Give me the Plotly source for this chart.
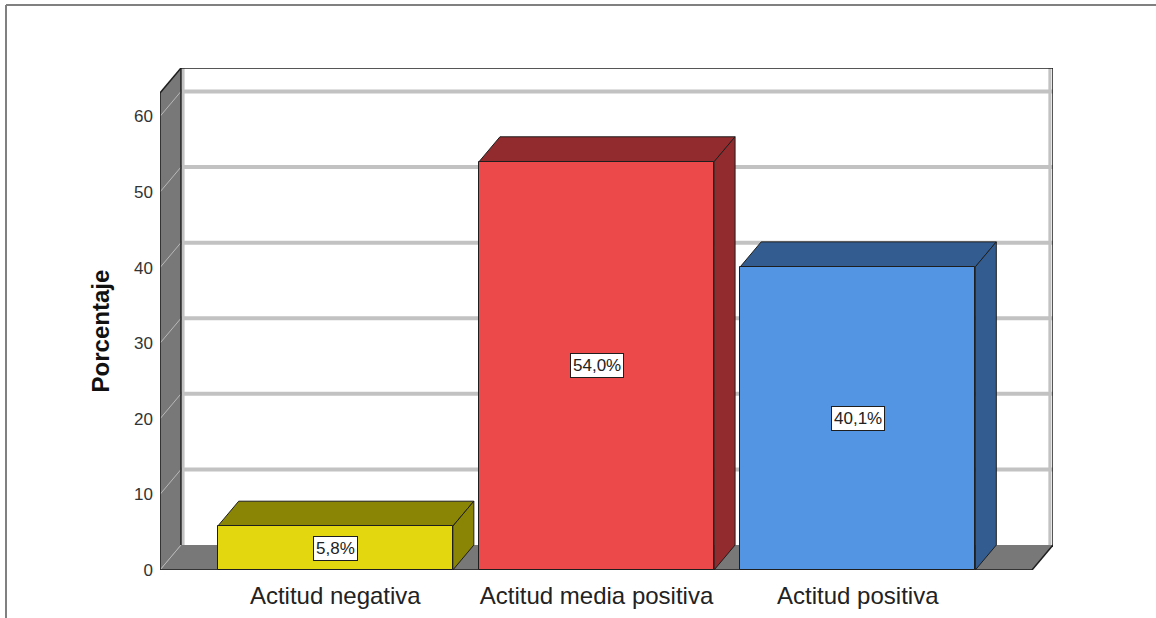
import plotly.graph_objects as go

# ---- data ----
categories = ["Actitud negativa", "Actitud media positiva", "Actitud positiva"]
values = [5.8, 54.0, 40.1]
y_ticks = [0, 10, 20, 30, 40, 50, 60]

# ---- style ----
front_colors = ["#E3D80F", "#EC4A4A", "#5394E3"]
dark_colors = ["#8B8505", "#922B2D", "#335D90"]
WALL = "#787878"
GRID = "#C2C2C2"
EDGE = "#1E1E1E"
FONT = "Liberation Sans, Arial, sans-serif"

BAR_W = 0.9
DX = 0.0803        # depth offset in x units
DY = 3.3           # depth offset in y units
X_L = -0.671       # front plane left
X_R = 2.667        # front plane right
WALL_H = 63.1      # wall height

xs = list(range(len(categories)))

fig = go.Figure()
fig.add_trace(go.Bar(
    x=xs, y=values, width=BAR_W,
    marker=dict(color=front_colors, line=dict(color=EDGE, width=1)),
    hoverinfo="skip", showlegend=False,
))

shapes = []


def poly(pts, fill, line_color=None, width=1):
    path = "M " + " L ".join(f"{x},{y}" for x, y in pts) + " Z"
    return dict(type="path", path=path, xref="x", yref="y", layer="below",
                fillcolor=fill,
                line=dict(color=line_color if line_color else fill, width=width if line_color else 0))


def seg(x0, y0, x1, y1, color, width):
    return dict(type="line", x0=x0, y0=y0, x1=x1, y1=y1, xref="x", yref="y",
                layer="below", line=dict(color=color, width=width))


# back wall (white)
shapes.append(poly([(X_L + DX, DY), (X_L + DX, WALL_H + DY), (X_R + DX, WALL_H + DY), (X_R + DX, DY)], "white"))
# left wall
shapes.append(poly([(X_L, 0), (X_L, WALL_H), (X_L + DX, WALL_H + DY), (X_L + DX, DY)], WALL))
# floor
shapes.append(poly([(X_L, 0), (X_L + DX, DY), (X_R + DX, DY), (X_R, 0)], WALL))

# gridlines
for t in y_ticks:
    if t > 0:
        shapes.append(seg(X_L + DX, t + DY, X_R + DX, t + DY, GRID, 4))
    shapes.append(seg(X_L, t, X_L + DX, t + DY, "#B8B8B8", 1))
# light inner border of back wall
shapes.append(seg(X_R + DX - 0.012, DY, X_R + DX - 0.012, WALL_H + DY, GRID, 3))
shapes.append(seg(X_L + DX + 0.008, DY, X_L + DX + 0.008, WALL_H + DY, GRID, 3))

# edges
shapes.append(seg(X_L, 0, X_L, WALL_H, EDGE, 1.5))
shapes.append(seg(X_L, WALL_H, X_L + DX, WALL_H + DY, EDGE, 1.5))
shapes.append(seg(X_L + DX, DY, X_L + DX, WALL_H + DY, EDGE, 1.5))
shapes.append(seg(X_L + DX, WALL_H + DY, X_R + DX, WALL_H + DY, EDGE, 1.5))
shapes.append(seg(X_R + DX, DY, X_R + DX, WALL_H + DY, EDGE, 1.5))
shapes.append(seg(X_L, 0, X_R, 0, EDGE, 1.5))
shapes.append(seg(X_R, 0, X_R + DX, DY, EDGE, 1.5))

# bar 3D faces
for x, v, dc in zip(xs, values, dark_colors):
    l, r = x - BAR_W / 2, x + BAR_W / 2
    shapes.append(poly([(l, v), (l + DX, v + DY), (r + DX, v + DY), (r, v)], dc, EDGE, 1))
    shapes.append(poly([(r, 0), (r, v), (r + DX, v + DY), (r + DX, DY)], dc, EDGE, 1))

# outer frame (paper coords)
def px_to_paper_x(px):
    return (px - 160) / 893


def py_to_paper_y(py):
    return (570 - py) / 502


shapes.append(dict(type="line", xref="paper", yref="paper",
                   x0=px_to_paper_x(6), y0=py_to_paper_y(5), x1=px_to_paper_x(1160), y1=py_to_paper_y(5),
                   line=dict(color="#808080", width=2)))
shapes.append(dict(type="line", xref="paper", yref="paper",
                   x0=px_to_paper_x(6), y0=py_to_paper_y(5), x1=px_to_paper_x(6), y1=py_to_paper_y(620),
                   line=dict(color="#808080", width=2)))

annotations = []
for x, v in zip(xs, values):
    annotations.append(dict(
        x=x, y=v / 2, xref="x", yref="y", showarrow=False,
        text=f"{v:.1f}".replace(".", ",") + "%",
        font=dict(family=FONT, size=17, color="#222222"),
        bgcolor="white", bordercolor=EDGE, borderwidth=1, borderpad=2,
    ))
annotations.append(dict(
    x=0, xref="paper", xshift=-60, y=WALL_H / 2, yref="y", showarrow=False,
    text="<b>Porcentaje</b>", textangle=-90,
    font=dict(family=FONT, size=24, color="#111111"),
    xanchor="center", yanchor="middle",
))

fig.update_layout(
    width=1156, height=618,
    margin=dict(l=160, r=103, t=68, b=48, pad=0, autoexpand=False),
    paper_bgcolor="white", plot_bgcolor="white",
    shapes=shapes, annotations=annotations,
    bargap=0,
    xaxis=dict(range=[X_L, X_R + DX], tickvals=xs, ticktext=categories,
               showgrid=False, zeroline=False, showline=False, ticks="",
               tickfont=dict(family=FONT, size=24, color="#222222"),
               ticklabelstandoff=9, fixedrange=True, automargin=False),
    yaxis=dict(range=[0, WALL_H + DY], tickvals=y_ticks,
               showgrid=False, zeroline=False, showline=False, ticks="",
               tickfont=dict(family=FONT, size=17, color="#333333"),
               ticklabelstandoff=6, fixedrange=True, automargin=False),
)

fig.write_html("out.html")
